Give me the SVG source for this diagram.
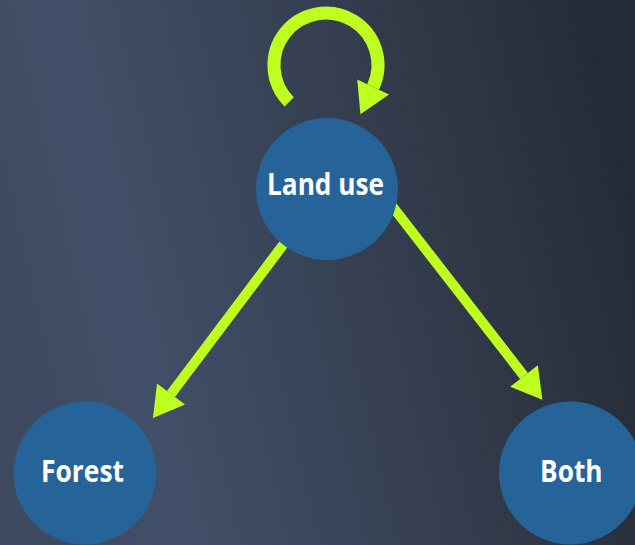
<svg xmlns="http://www.w3.org/2000/svg" width="635" height="545" viewBox="0 0 635 545">
  <defs>
    <linearGradient id="bg" x1="0" y1="0.6" x2="1" y2="0.4">
      <stop offset="0" stop-color="#3d4a60"/>
      <stop offset="0.2" stop-color="#414f68"/>
      <stop offset="0.65" stop-color="#333c4c"/>
      <stop offset="1" stop-color="#252b36"/>
    </linearGradient>
    <marker id="head" markerUnits="userSpaceOnUse" markerWidth="32" markerHeight="36" refX="0" refY="17.5" orient="auto" overflow="visible">
      <path d="M0,0 L30,17.5 L0,35 Z" fill="#bfff1f"/>
    </marker>
    <style>
      .node { fill: #266398; }
      .label { fill: #ffffff; font-family: "Open Sans", "Liberation Sans", sans-serif; font-weight: bold; font-size: 30px; text-anchor: middle; }
      .edge { fill: none; stroke: #bfff1f; stroke-width: 10; stroke-linecap: butt; marker-end: url(#head); }
    </style>
  </defs>
  <rect x="0" y="0" width="635" height="545" fill="url(#bg)"/>
  <g id="connectors">
    <path class="edge" d="M 289.2 101.8 A 52 52 0 1 1 373.1 87.0" style="stroke-width:13"/>
    <path class="edge" d="M 292 233 L 171 394"/>
    <path class="edge" d="M 389 202 L 524 376"/>
  </g>
  <g id="node-landuse">
    <circle class="node" cx="327" cy="189" r="71"/>
    <text class="label" x="325.5" y="195" textLength="117" lengthAdjust="spacingAndGlyphs">Land use</text>
  </g>
  <g id="node-forest">
    <circle class="node" cx="85" cy="473" r="71.5"/>
    <text class="label" x="82.5" y="481.5" textLength="83" lengthAdjust="spacingAndGlyphs">Forest</text>
  </g>
  <g id="node-both">
    <circle class="node" cx="570.5" cy="473" r="71.5"/>
    <text class="label" x="571.3" y="481.5" textLength="62.5" lengthAdjust="spacingAndGlyphs">Both</text>
  </g>
</svg>
